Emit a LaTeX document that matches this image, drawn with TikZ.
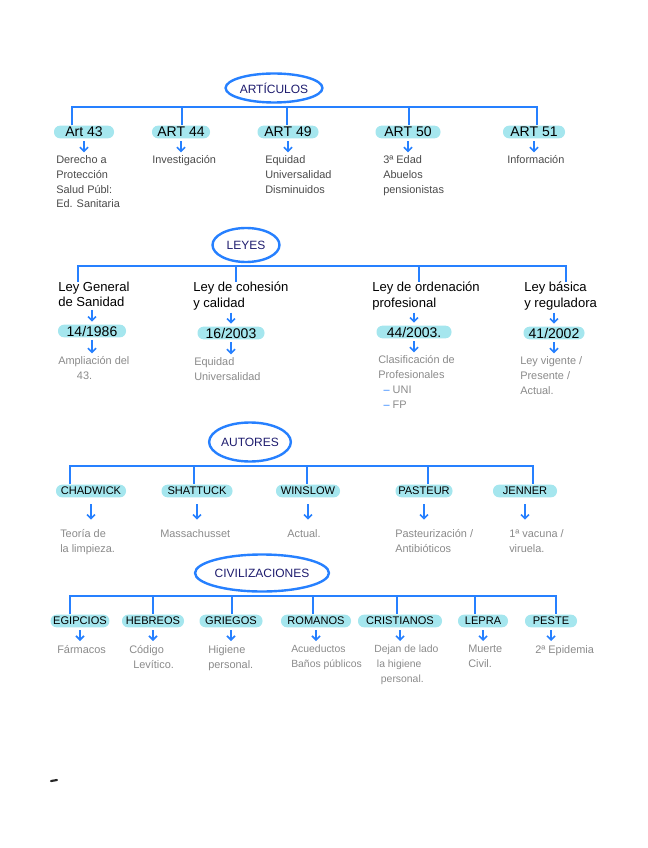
\documentclass[tikz,border=0pt]{standalone}
\usepackage{fontspec}
\setmainfont{Liberation Sans}
\usetikzlibrary{arrows.meta,shapes.geometric}
\definecolor{lnblue}{HTML}{2680FF}
\definecolor{navy}{HTML}{1E1C6E}
\definecolor{hlcyan}{HTML}{A5E6EE}
\definecolor{dgray}{HTML}{4A4A4A}
\definecolor{lgray}{HTML}{8A8A8A}
\begin{document}
\begin{tikzpicture}[x=0.75pt,y=-0.75pt,
  bar/.style={draw=lnblue, line width=1.5pt, line join=miter},
  title/.style={ellipse, draw=lnblue, line width=1.8pt, text=navy, inner sep=0pt, font=\fontsize{9}{10}\selectfont},
  hl/.style={fill=hlcyan, rounded corners=4.5pt, inner xsep=2pt, inner ysep=0pt, minimum height=9.5pt, text=black, font=\fontsize{10.5}{11}\selectfont},
  hlc/.style={hl, font=\fontsize{8.3}{10}\selectfont},
  lab/.style={anchor=north west, align=left, inner sep=0pt, text=black, font=\fontsize{9.8}{11.4}\selectfont},
  desc/.style={anchor=north west, align=left, inner sep=0pt, text=lgray, font=\fontsize{8.2}{11.2}\selectfont},
  ddesc/.style={desc, text=dgray},
  arr/.style={draw=lnblue, line width=1.2pt, -{Straight Barb[length=3pt,width=6pt]}, shorten <=2pt, shorten >=2pt}
]
\useasboundingbox (0,0) rectangle (648,848);

% ---------------- ARTICULOS ----------------
\node[title, minimum width=76*0.75pt, minimum height=29*0.75pt] (art) at (274,88) {ARTÍCULOS};
\coordinate (t1a) at (72,107);
\coordinate (t1b) at (182,107);
\coordinate (t1c) at (287,107);
\coordinate (t1d) at (409,107);
\coordinate (t1e) at (537,107);
\node[hl, minimum width=60*0.75pt] (a43) at (84,132) {Art 43};
\node[hl, minimum width=58*0.75pt] (a44) at (181,132) {ART 44};
\node[hl, minimum width=61*0.75pt] (a49) at (288,132) {ART 49};
\node[hl, minimum width=65*0.75pt] (a50) at (408,132) {ART 50};
\node[hl, minimum width=62*0.75pt] (a51) at (534,132) {ART 51};
\draw[bar] (t1a |- a43.north) -- (t1a) -- (t1e) -- (t1e |- a51.north);
\draw[bar] (t1b) -- (t1b |- a44.north);
\draw[bar] (t1c) -- (t1c |- a49.north);
\draw[bar] (t1d) -- (t1d |- a50.north);
\node[ddesc] (d43) at (56,155) {Derecho a\\Protección\\Salud Públ:\\Ed. Sanitaria};
\node[ddesc] (d44) at (152,155) {Investigación};
\node[ddesc] (d49) at (265,155) {Equidad\\Universalidad\\Disminuidos};
\node[ddesc] (d50) at (383,155) {3ª Edad\\Abuelos\\pensionistas};
\node[ddesc] (d51) at (507,155) {Información};
\draw[arr] (a43.south) -- (a43.south |- d43.north);
\draw[arr] (a44.south) -- (a44.south |- d44.north);
\draw[arr] (a49.south) -- (a49.south |- d49.north);
\draw[arr] (a50.south) -- (a50.south |- d50.north);
\draw[arr] (a51.south) -- (a51.south |- d51.north);

% ---------------- LEYES ----------------
\node[title, minimum width=67*0.75pt, minimum height=34*0.75pt] (leyes) at (246,245) {LEYES};
\coordinate (t2a) at (78,266);
\coordinate (t2b) at (236,266);
\coordinate (t2c) at (419,266);
\coordinate (t2d) at (566,266);
\node[lab] (l1) at (58,282) {Ley General\\de Sanidad};
\node[lab] (l2) at (193,282) {Ley de cohesión\\y calidad};
\node[lab] (l3) at (372,282) {Ley de ordenación\\profesional};
\node[lab] (l4) at (524,282) {Ley básica\\y reguladora};
\draw[bar] (t2a |- l1.north) -- (t2a) -- (t2d) -- (t2d |- l4.north);
\draw[bar] (t2b) -- (t2b |- l2.north);
\draw[bar] (t2c) -- (t2c |- l3.north);
\node[hl, minimum width=68*0.75pt] (n1) at (92,331) {14/1986};
\node[hl, minimum width=67*0.75pt] (n2) at (231,333) {16/2003};
\node[hl, minimum width=75*0.75pt] (n3) at (414,332) {44/2003.};
\node[hl, minimum width=61*0.75pt] (n4) at (554,333) {41/2002};
\draw[arr] (l1.south -| n1.north) -- (n1.north);
\draw[arr] (l2.south -| n2.north) -- (n2.north);
\draw[arr] (l3.south -| n3.north) -- (n3.north);
\draw[arr] (l4.south -| n4.north) -- (n4.north);
\node[desc] (e1) at (58,356) {Ampliación del\\\hspace*{14pt}43.};
\node[desc] (e2) at (194,357) {Equidad\\Universalidad};
\node[desc] (e3) at (378,355) {Clasificación de\\Profesionales\\\hspace*{4pt}{\color{lnblue}–} UNI\\\hspace*{4pt}{\color{lnblue}–} FP};
\node[desc] (e4) at (520,356) {Ley vigente /\\Presente /\\Actual.};
\draw[arr] (n1.south) -- (n1.south |- e1.north);
\draw[arr] (n2.south) -- (n2.south |- e2.north);
\draw[arr] (n3.south) -- (n3.south |- e3.north);
\draw[arr] (n4.south) -- (n4.south |- e4.north);

% ---------------- AUTORES ----------------
\node[title, minimum width=80*0.75pt, minimum height=39*0.75pt] (aut) at (250,442) {AUTORES};
\coordinate (t3a) at (70,466);
\coordinate (t3b) at (194,466);
\coordinate (t3c) at (307,466);
\coordinate (t3d) at (428,466);
\coordinate (t3e) at (533,466);
\node[hlc, minimum width=70*0.75pt] (u1) at (91,491) {CHADWICK};
\node[hlc, minimum width=71*0.75pt] (u2) at (197,491) {SHATTUCK};
\node[hlc, minimum width=64*0.75pt] (u3) at (308,491) {WINSLOW};
\node[hlc, minimum width=57*0.75pt] (u4) at (424,491) {PASTEUR};
\node[hlc, minimum width=64*0.75pt] (u5) at (525,491) {JENNER};
\draw[bar] (t3a |- u1.north) -- (t3a) -- (t3e) -- (t3e |- u5.north);
\draw[bar] (t3b) -- (t3b |- u2.north);
\draw[bar] (t3c) -- (t3c |- u3.north);
\draw[bar] (t3d) -- (t3d |- u4.north);
\node[desc] (f1) at (60,529) {Teoría de\\la limpieza.};
\node[desc] (f2) at (160,529) {Massachusset};
\node[desc] (f3) at (287,529) {Actual.};
\node[desc] (f4) at (395,529) {Pasteurización /\\Antibióticos};
\node[desc] (f5) at (509,529) {1ª vacuna /\\viruela.};
\draw[arr, shorten <=5pt, shorten >=7pt] (u1.south) -- (u1.south |- f1.north);
\draw[arr, shorten <=5pt, shorten >=7pt] (u2.south) -- (u2.south |- f2.north);
\draw[arr, shorten <=5pt, shorten >=7pt] (u3.south) -- (u3.south |- f3.north);
\draw[arr, shorten <=5pt, shorten >=7pt] (u4.south) -- (u4.south |- f4.north);
\draw[arr, shorten <=5pt, shorten >=7pt] (u5.south) -- (u5.south |- f5.north);

% ---------------- CIVILIZACIONES ----------------
\node[title, minimum width=118*0.75pt, minimum height=37*0.75pt] (civ) at (262,573) {CIVILIZACIONES};
\coordinate (t4a) at (70,596);
\coordinate (t4b) at (153,596);
\coordinate (t4c) at (232,596);
\coordinate (t4d) at (313,596);
\coordinate (t4e) at (397,596);
\coordinate (t4f) at (475,596);
\coordinate (t4g) at (556,596);
\node[hlc, minimum width=56*0.75pt] (c1) at (80,621) {EGIPCIOS};
\node[hlc, minimum width=62*0.75pt] (c2) at (153,621) {HEBREOS};
\node[hlc, minimum width=63*0.75pt] (c3) at (231,621) {GRIEGOS};
\node[hlc, minimum width=70*0.75pt] (c4) at (316,621) {ROMANOS};
\node[hlc, minimum width=84*0.75pt] (c5) at (400,621) {CRISTIANOS};
\node[hlc, minimum width=50*0.75pt] (c6) at (483,621) {LEPRA};
\node[hlc, minimum width=52*0.75pt] (c7) at (551,621) {PESTE};
\draw[bar] (t4a |- c1.north) -- (t4a) -- (t4g) -- (t4g |- c7.north);
\draw[bar] (t4b) -- (t4b |- c2.north);
\draw[bar] (t4c) -- (t4c |- c3.north);
\draw[bar] (t4d) -- (t4d |- c4.north);
\draw[bar] (t4e) -- (t4e |- c5.north);
\draw[bar] (t4f) -- (t4f |- c6.north);
\node[desc] (g1) at (57,645) {Fármacos};
\node[desc] (g2) at (129,645) {Código\\\hspace*{3pt}Levítico.};
\node[desc] (g3) at (208,645) {Higiene\\personal.};
\node[desc, font=\fontsize{7.8}{11.2}\selectfont] (g4) at (291,645) {Acueductos\\Baños públicos};
\node[desc, font=\fontsize{7.8}{11.2}\selectfont] (g5) at (374,645) {Dejan de lado\\\hspace*{2pt}la higiene\\\hspace*{5pt}personal.};
\node[desc] (g6) at (468,645) {Muerte\\Civil.};
\node[desc] (g7) at (535,645) {2ª Epidemia};
\draw[arr, shorten >=3pt] (c1.south) -- (c1.south |- g1.north);
\draw[arr, shorten >=3pt] (c2.south) -- (c2.south |- g2.north);
\draw[arr, shorten >=3pt] (c3.south) -- (c3.south |- g3.north);
\draw[arr, shorten >=3pt] (c4.south) -- (c4.south |- g4.north);
\draw[arr, shorten >=3pt] (c5.south) -- (c5.south |- g5.north);
\draw[arr, shorten >=3pt] (c6.south) -- (c6.south |- g6.north);
\draw[arr, shorten >=3pt] (c7.south) -- (c7.south |- g7.north);

% stray mark
\draw[line width=1.6pt, black!85, line cap=round] (51,781) -- (57,780);
\end{tikzpicture}
\end{document}
